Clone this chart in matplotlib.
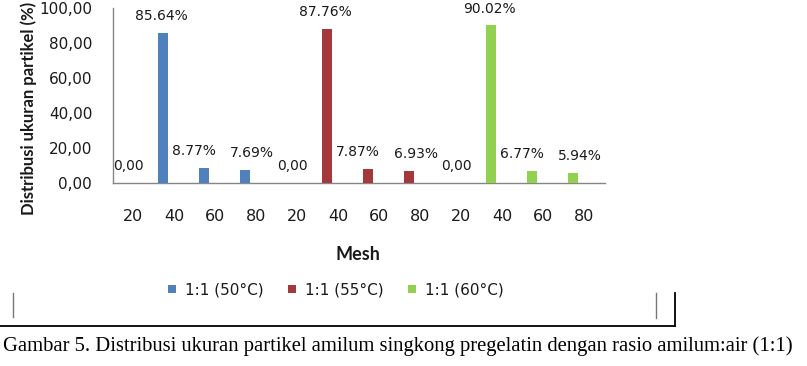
import matplotlib
matplotlib.use("Agg")
import matplotlib.pyplot as plt
from matplotlib.ticker import FuncFormatter, MultipleLocator
from matplotlib.lines import Line2D
from matplotlib.patches import Patch

# ---------------- data ----------------
mesh_labels = ["20", "40", "60", "80"]
series_names = ["1:1 (50°C)", "1:1 (55°C)", "1:1 (60°C)"]
values_50 = [0.00, 85.64, 8.77, 7.69]
values_55 = [0.00, 87.76, 7.87, 6.93]
values_60 = [0.00, 90.02, 6.77, 5.94]
y_label = "Distribusi ukuran partikel (%)"
x_label = "Mesh"
caption = ("Gambar 5. Distribusi ukuran partikel amilum singkong pregelatin "
           "dengan rasio amilum:air (1:1)")

# ---------------- style ----------------
colors = ["#4F81BD", "#A3393A", "#92D050"]
BAR_SHIFT = -0.28        # bars sit left of the category centre
BAR_WIDTH = 0.26
LABEL_DX_PX = [6, -2, -10, 7]   # per-mesh horizontal nudge of data labels (px)
W, H = 807, 366

fig = plt.figure(figsize=(W / 100, H / 100), dpi=100)
ax = fig.add_axes([113 / W, 1 - 183 / H, (605 - 113) / W, (183 - 8) / H])

all_series = [values_50, values_55, values_60]
n_mesh = len(mesh_labels)
for s, (vals, col) in enumerate(zip(all_series, colors)):
    cats = [s * n_mesh + i for i in range(n_mesh)]
    xs = [c + BAR_SHIFT for c in cats]
    ax.bar(xs, vals, width=BAR_WIDTH, color=col, edgecolor="none", zorder=3)
    for i, (x, v) in enumerate(zip(xs, vals)):
        txt = "0,00" if v == 0 else f"{v:.2f}%"
        ax.annotate(txt, xy=(x, v), xytext=(LABEL_DX_PX[i] * 0.72, 12.2),
                    textcoords="offset points", ha="center", va="center",
                    fontsize=10, family="DejaVu Sans", color="#1a1a1a",
                    annotation_clip=False)

n_cat = n_mesh * len(all_series)
ax.set_xlim(-0.5, n_cat - 0.5)
ax.set_ylim(0, 100)
ax.set_xticks(range(n_cat))
ax.set_xticklabels(mesh_labels * len(all_series))
ax.yaxis.set_major_locator(MultipleLocator(20))
ax.yaxis.set_major_formatter(FuncFormatter(lambda v, p: f"{v:.2f}".replace(".", ",")))
ax.tick_params(axis="x", length=0, pad=19, labelsize=11.5, labelcolor="#1a1a1a")
ax.tick_params(axis="y", length=0, pad=15, labelsize=11, labelcolor="#1a1a1a")
for lab in ax.get_xticklabels() + ax.get_yticklabels():
    lab.set_family("DejaVu Sans")

for side in ("top", "right"):
    ax.spines[side].set_visible(False)
for side in ("left", "bottom"):
    ax.spines[side].set_color("#868686")
    ax.spines[side].set_linewidth(1.0)

# axis titles
fig.text(29 / W, 1 - 215 / H, y_label, rotation=90, ha="center", va="bottom",
         family="Lato", fontweight="bold", fontsize=12, color="#1a1a1a")
fig.text(358 / W, 1 - 254 / H, x_label, ha="center", va="center",
         family="Lato", fontweight="bold", fontsize=13, color="#1a1a1a")

# legend
handles = [Patch(facecolor=c, edgecolor="none") for c in colors]
fig.legend(handles, series_names, loc="center", bbox_to_anchor=(336 / W, 1 - 290 / H),
           ncol=3, frameon=False, prop={"family": "DejaVu Sans", "size": 11},
           handlelength=0.5, handleheight=0.5, handletextpad=0.6,
           columnspacing=1.6, labelcolor="#1a1a1a")

# document frame remnants
def fline(xs, ys, **kw):
    fig.add_artist(Line2D([x / W for x in xs], [1 - y / H for y in ys],
                          transform=fig.transFigure, **kw))

fline([0, 675], [326, 326], color="black", lw=1.3)
fline([675, 675], [293, 326], color="black", lw=1.3)
fline([656, 656], [293, 318], color="#777777", lw=1.0)
fline([13, 13], [293, 317], color="#777777", lw=1.0)

# caption
fig.text(3 / W, 1 - 346 / H, caption, ha="left", va="center",
         family="Liberation Serif", fontsize=14.9, color="black")

fig.savefig("out.png", dpi=100)
